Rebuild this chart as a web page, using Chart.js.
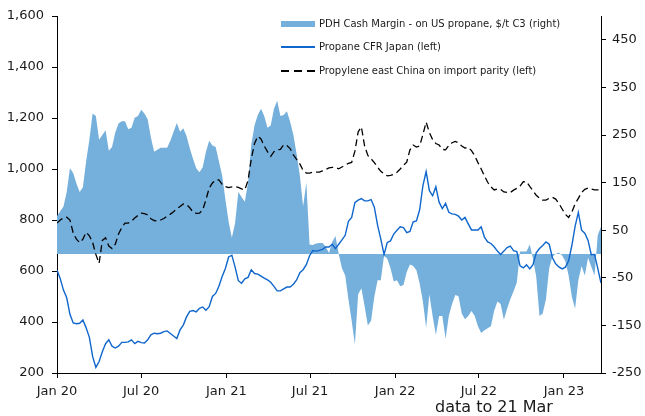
<!DOCTYPE html>
<html lang="en">
<head>
    <meta charset="UTF-8">
    <title>PDH cash margin vs propane and propylene</title>
    <style>
        body {
            margin: 0;
            background: #fff;
            font-family: "DejaVu Sans", sans-serif;
        }

        #wrap {
            position: relative;
            width: 645px;
            height: 416px;
        }

        #chart {
            position: absolute;
            left: 0;
            top: 0;
        }

        .row {
            position: absolute;
            left: 281px;
            height: 12px;
            font-size: 10px;
            line-height: 12px;
            color: #1a1a1a;
            white-space: nowrap;
        }

        .row .sw {
            position: absolute;
            left: 0;
            width: 34px;
        }

        .row .txt {
            position: absolute;
            left: 38px;
            top: 0;
        }

        #note {
            position: absolute;
            left: 435px;
            top: 398px;
            font-size: 16px;
            line-height: 18px;
            color: #1a1a1a;
        }
    </style>
</head>
<body>
    <div id="wrap">
        <canvas id="chart" width="645" height="416"></canvas>
        <div class="row" style="top:18px"><span class="sw" style="top:3px;height:6px;background:#75afdb"></span><span class="txt">PDH Cash Margin - on US propane, $/t C3 (right)</span></div>
        <div class="row" style="top:41px"><span class="sw" style="top:5px;height:2px;background:#0f66cc"></span><span class="txt">Propane CFR Japan (left)</span></div>
        <div class="row" style="top:65px"><span class="sw" style="top:5px;height:1.5px;background:repeating-linear-gradient(to right,#000 0 8px,transparent 8px 13px)"></span><span class="txt">Propylene east China on import parity (left)</span></div>
        <div id="note">data to 21 Mar</div>
    </div>

    <script src="https://cdn.jsdelivr.net/npm/chart.js"></script>
    <script>
        // weekly points, week 0 = 1 Jan 2020, last = 21 Mar 2023
        const weeks = Array.from({ length: 169 }, (_, i) => i);

        // x axis ticks (weeks from 1 Jan 2020)
        const tickWeeks = [0, 26, 52.29, 78.14, 104.43, 130.29, 156.57];
        const tickLabels = ['Jan 20', 'Jul 20', 'Jan 21', 'Jul 21', 'Jan 22', 'Jul 22', 'Jan 23'];
        const rightTicks = [-250, -150, -50, 50, 150, 250, 350, 450];

        // PDH cash margin, $/t C3 (right axis)
        const pdhMargin = [
            80, 90, 100, 130, 180, 170, 148, 130, 140, 195,
            240, 295, 290, 240, 250, 260, 217, 225, 255, 274,
            279, 279, 262, 265, 286, 290, 303, 295, 283, 245,
            215, 219, 223, 223, 223, 238, 257, 275, 257, 264,
            248, 222, 200, 180, 172, 182, 215, 238, 228, 225,
            195, 165, 115, 68, 34, 65, 130, 120, 110, 150,
            230, 270, 292, 305, 290, 265, 270, 305, 322, 290,
            292, 300, 278, 250, 210, 165, 100, 150, 20, 19,
            22, 23, 23, 15, 2, 25, 38, 0, -30, -45,
            -95, -140, -190, -85, -72, -110, -150, -140, -90, -55,
            -55, -3, -10, -30, -58, -55, -68, -65, -38, -22,
            -25, -34, -62, -100, -155, -85, -130, -170, -130, -130,
            -178, -130, -105, -86, -89, -125, -137, -130, -120, -130,
            -152, -166, -160, -156, -152, -120, -100, -105, -138, -115,
            -95, -78, -60, 5, 5, 5, 20, -10, -48, -130,
            -125, -95, -30, -5, 0, 3, -3, -15, -45, -90,
            -115, -55, -25, -45, -8, -27, -45, 40, 57
        ];

        // Propane CFR Japan, $/t (left axis)
        const propaneJapan = [
            604, 570, 525, 495, 430, 396, 393, 395, 408, 377,
            340, 265, 222, 245, 283, 315, 330, 305, 298, 305,
            320, 320, 322, 330, 315, 324, 319, 318, 330, 350,
            356, 354, 356, 362, 365, 355, 345, 335, 369, 388,
            420, 442, 445, 440, 454, 459, 446, 460, 500, 512,
            540, 578, 610, 655, 662, 615, 562, 552, 569, 575,
            605, 590, 588, 580, 572, 565, 556, 540, 522, 522,
            530, 537, 537, 548, 565, 593, 605, 625, 660, 680,
            678, 681, 685, 694, 694, 705, 688, 705, 722, 740,
            795, 810, 868, 878, 884, 875, 875, 880, 850, 780,
            725, 665, 712, 718, 745, 760, 773, 770, 750, 755,
            793, 796, 840, 935, 990, 915, 895, 930, 870, 845,
            865, 830, 824, 822, 815, 800, 810, 785, 761, 761,
            761, 773, 733, 714, 708, 695, 678, 665, 678, 692,
            698, 680, 676, 620, 612, 624, 608, 625, 671, 688,
            700, 714, 705, 652, 628, 616, 608, 615, 640, 700,
            775, 830, 760, 748, 720, 664, 665, 610, 553
        ];

        // Propylene east China on import parity, $/t (left axis)
        const propyleneChina = [
            788, 800, 808, 811, 800, 749, 725, 711, 725, 752,
            738, 712, 665, 630, 720, 730, 698, 688, 705, 745,
            770, 788, 788, 795, 808, 818, 827, 825, 820, 805,
            798, 796, 800, 806, 815, 823, 832, 844, 853, 863,
            861, 848, 831, 826, 827, 839, 880, 925, 945, 957,
            957, 940, 931, 927, 930, 931, 928, 922, 918, 955,
            1040, 1100, 1128, 1118, 1090, 1068, 1050, 1068, 1075, 1077,
            1095, 1092, 1080, 1055, 1038, 1020, 994, 984, 984, 987,
            988, 988, 993, 998, 1004, 1006, 1006, 1001, 1008, 1015,
            1022, 1026, 1070, 1145, 1165, 1090, 1053, 1040, 1025, 1007,
            991, 981, 973, 975, 979, 987, 1000, 1015, 1027, 1075,
            1094, 1086, 1090, 1135, 1184, 1143, 1115, 1100, 1094, 1077,
            1075, 1092, 1103, 1108, 1103, 1090, 1082, 1085, 1072, 1052,
            1025, 1000, 973, 948, 930, 918, 922, 920, 910, 908,
            908, 917, 924, 933, 950, 950, 932, 915, 897, 886,
            878, 878, 885, 889, 882, 865, 843, 822, 810, 831,
            863, 885, 908, 920, 925, 922, 918, 918, 918
        ];

        const pts = (vals) => vals.map((v, i) => ({ x: weeks[i], y: v }));

        Chart.defaults.font.family = '"DejaVu Sans", sans-serif';
        Chart.defaults.font.size = 13;
        Chart.defaults.color = '#1a1a1a';

        const axisBase = {
            grid: { drawOnChartArea: false, drawTicks: true, tickLength: 5, color: '#000' },
            border: { color: '#000', width: 1 }
        };

        new Chart(document.getElementById('chart'), {
            type: 'line',
            data: {
                datasets: [
                    {
                        label: 'Propylene east China on import parity (left)',
                        data: pts(propyleneChina),
                        yAxisID: 'y',
                        borderColor: '#000',
                        borderWidth: 1.3,
                        borderDash: [7, 4],
                        pointRadius: 0,
                        tension: 0,
                        fill: false,
                        order: 1
                    },
                    {
                        label: 'Propane CFR Japan (left)',
                        data: pts(propaneJapan),
                        yAxisID: 'y',
                        borderColor: '#0f66cc',
                        borderWidth: 1.4,
                        pointRadius: 0,
                        tension: 0,
                        fill: false,
                        order: 2
                    },
                    {
                        label: 'PDH Cash Margin - on US propane, $/t C3 (right)',
                        data: pts(pdhMargin),
                        yAxisID: 'y1',
                        borderWidth: 0,
                        backgroundColor: '#75afdb',
                        pointRadius: 0,
                        tension: 0,
                        fill: 'origin',
                        order: 3
                    }
                ]
            },
            options: {
                responsive: false,
                animation: false,
                layout: { padding: { top: 16, left: 0, right: 0, bottom: 0 } },
                plugins: {
                    legend: { display: false },
                    tooltip: { enabled: false }
                },
                scales: {
                    x: {
                        ...axisBase,
                        type: 'linear',
                        min: 0,
                        max: 168,
                        afterBuildTicks: (s) => { s.ticks = tickWeeks.map(v => ({ value: v })); },
                        afterFit: (s) => { s.height = 43; },
                        ticks: {
                            autoSkip: false,
                            maxRotation: 0,
                            padding: 6,
                            callback: (v, i) => tickLabels[i]
                        }
                    },
                    y: {
                        ...axisBase,
                        position: 'left',
                        min: 200,
                        max: 1600,
                        afterFit: (s) => { s.width = 57; },
                        ticks: {
                            stepSize: 200,
                            padding: 8,
                            callback: (v) => v.toLocaleString('en-US')
                        }
                    },
                    y1: {
                        ...axisBase,
                        position: 'right',
                        min: -250,
                        max: 500,
                        afterBuildTicks: (s) => { s.ticks = rightTicks.map(v => ({ value: v })); },
                        afterFit: (s) => { s.width = 44; },
                        ticks: {
                            padding: 6,
                            callback: (v) => String(v)
                        }
                    }
                }
            }
        });
    </script>
</body>
</html>
